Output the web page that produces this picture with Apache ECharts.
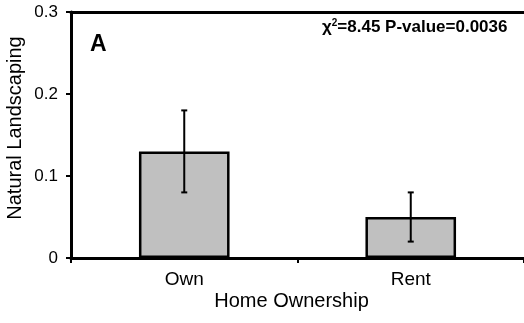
<!DOCTYPE html>
<html>
<head>
<meta charset="utf-8">
<script src="https://cdn.jsdelivr.net/npm/echarts@6/dist/echarts.min.js"></script>
<style>
  html, body { margin: 0; padding: 0; background: #fff; }
  #chart { width: 524px; height: 323px; }
</style>
</head>
<body>
<div id="chart"></div>
<script>
// Proportion using natural landscaping by home ownership
const categories = ['Own', 'Rent'];
const means = [0.13, 0.05];
const errLow = [0.08, 0.02];
const errHigh = [0.18, 0.08];
const yTicks = [0, 0.1, 0.2, 0.3];

const chart = echarts.init(document.getElementById('chart'));
const font = 'Liberation Sans, Arial, sans-serif';

chart.setOption({
  animation: false,
  grid: { left: 71, right: 0, top: 12, bottom: 65, containLabel: false, outerBoundsMode: 'none' },
  xAxis: [{
    type: 'category',
    data: categories,
    position: 'bottom',
    name: 'Home Ownership',
    nameLocation: 'middle',
    nameGap: 33,
    nameMoveOverlap: false,
    nameTextStyle: { fontFamily: font, fontSize: 20, color: '#000', padding: [0, 12, 0, 0] },
    axisLine: { lineStyle: { color: '#000', width: 3 } },
    axisTick: { show: true, length: 5, lineStyle: { color: '#000', width: 2 } },
    axisLabel: { fontFamily: font, fontSize: 19, color: '#000', margin: 12 }
  }, {
    type: 'category',
    data: categories,
    position: 'top',
    axisLine: { lineStyle: { color: '#000', width: 3 } },
    axisTick: { show: false },
    axisLabel: { show: false }
  }],
  yAxis: {
    type: 'value',
    min: yTicks[0],
    max: yTicks[yTicks.length - 1],
    interval: 0.1,
    name: 'Natural Landscaping',
    nameLocation: 'middle',
    nameGap: 46,
    nameMoveOverlap: false,
    nameTextStyle: { fontFamily: font, fontSize: 20, color: '#000', padding: [0, 0, 0, 14] },
    axisLine: { show: true, lineStyle: { color: '#000', width: 3 } },
    axisTick: { show: true, length: 5, lineStyle: { color: '#000', width: 2 } },
    axisLabel: {
      fontFamily: font, fontSize: 17, color: '#000', margin: 13,
      formatter: v => (v === 0 ? '0' : v.toFixed(1))
    },
    splitLine: { show: false }
  },
  series: [{
    type: 'bar',
    data: means,
    barWidth: '40%',
    itemStyle: { color: '#c0c0c0', borderColor: '#000', borderWidth: 2.5 }
  }, {
    type: 'custom',
    data: categories.map((c, i) => [i, errLow[i], errHigh[i]]),
    z: 10,
    renderItem: (params, api) => {
      const lo = api.coord([api.value(0), api.value(1)]);
      const hi = api.coord([api.value(0), api.value(2)]);
      const cap = 3;
      const style = { stroke: '#000', lineWidth: 2 };
      return {
        type: 'group',
        children: [
          { type: 'line', shape: { x1: lo[0], y1: lo[1], x2: hi[0], y2: hi[1] }, style },
          { type: 'line', shape: { x1: lo[0] - cap, y1: lo[1], x2: lo[0] + cap, y2: lo[1] }, style },
          { type: 'line', shape: { x1: hi[0] - cap, y1: hi[1], x2: hi[0] + cap, y2: hi[1] }, style }
        ]
      };
    }
  }],
  graphic: [{
    type: 'text', left: 90, top: 33,
    style: { text: 'A', fontFamily: font, fontSize: 23, fontWeight: 'bold', fill: '#000' }
  }, {
    type: 'text', left: 322, top: 18,
    style: {
      text: '{c|χ}{s|2}{c|=8.45 P-value=0.0036}',
      rich: {
        c: { fontFamily: font, fontSize: 17, fontWeight: 'bold', color: '#000' },
        s: { fontFamily: font, fontSize: 10, fontWeight: 'bold', color: '#000', verticalAlign: 'top', padding: [0, 0, 8, 0] }
      }
    }
  }]
});
</script>
</body>
</html>
